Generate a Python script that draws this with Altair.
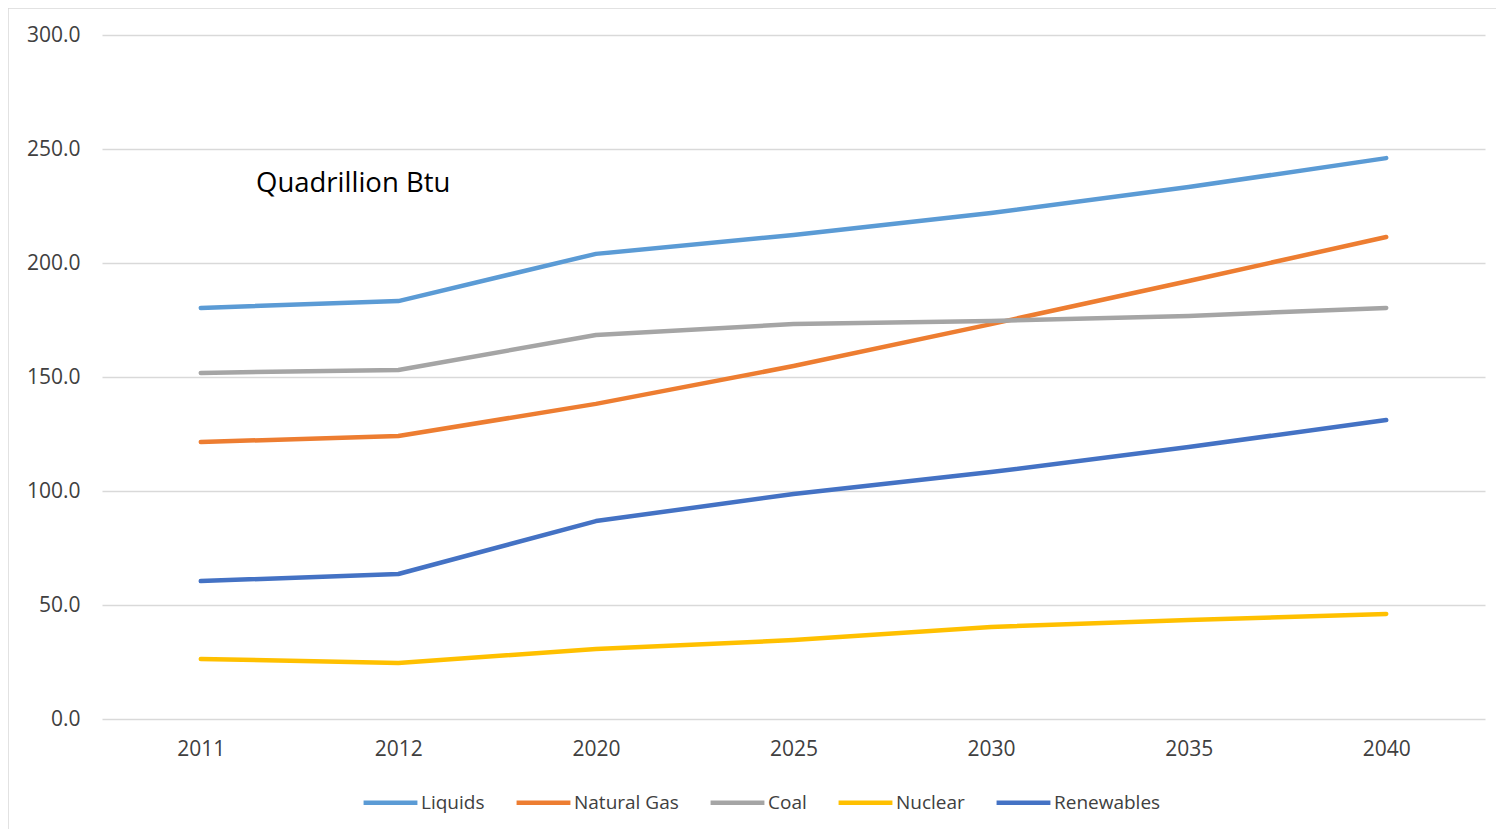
import altair as alt
import pandas as pd

years = ["2011", "2012", "2020", "2025", "2030", "2035", "2040"]
series_names = ["Liquids", "Natural Gas", "Coal", "Nuclear", "Renewables"]
liquids = [180.3, 183.3, 204.0, 212.3, 221.9, 233.3, 246.0]
natural_gas = [121.5, 124.1, 138.2, 154.8, 173.2, 192.1, 211.4]
coal = [151.8, 153.1, 168.4, 173.2, 174.6, 176.8, 180.3]
nuclear = [26.3, 24.6, 30.7, 34.6, 40.4, 43.4, 46.1]
renewables = [60.5, 63.6, 86.8, 98.7, 108.3, 119.3, 131.1]
colors = ["#5B9BD5", "#ED7D31", "#A5A5A5", "#FFC000", "#4472C4"]

rows = []
for name, vals in zip(series_names, [liquids, natural_gas, coal, nuclear, renewables]):
    for y, v in zip(years, vals):
        rows.append({"Year": y, "Series": name, "Value": v})
df = pd.DataFrame(rows)

FONT = "Open Sans"
W, H = 1383, 684

lines = alt.Chart(df).mark_line(strokeWidth=4.5, strokeCap="round", strokeJoin="round").encode(
    x=alt.X("Year:O", sort=years, title=None,
            scale=alt.Scale(type="point", padding=0.5),
            axis=alt.Axis(labelAngle=0, grid=False, ticks=False, domain=False,
                          labelPadding=19, labelFontSize=21, labelColor="#404040", labelFont=FONT)),
    y=alt.Y("Value:Q", title=None,
            scale=alt.Scale(domain=[0, 300], nice=False),
            axis=alt.Axis(values=[0, 50, 100, 150, 200, 250, 300], format=".1f",
                          ticks=False, domain=False, labelPadding=22,
                          labelFontSize=21, labelColor="#404040", labelFont=FONT,
                          gridColor="#d9d9d9", gridWidth=1.3)),
    color=alt.Color("Series:N", sort=series_names,
                    scale=alt.Scale(domain=series_names, range=colors),
                    legend=alt.Legend(title=None, orient="none", direction="horizontal",
                                      legendX=259, legendY=738,
                                      symbolType="stroke", symbolSize=2900, symbolStrokeWidth=4.5,
                                      labelFontSize=19, labelFont=FONT, labelColor="#404040",
                                      labelOffset=1, columnPadding=22)),
    detail="Series:N",
)

label = alt.Chart(pd.DataFrame({"t": ["Quadrillion Btu"]})).mark_text(
    align="left", baseline="middle", fontSize=27.5, font=FONT, color="#000000"
).encode(x=alt.value(154), y=alt.value(149), text="t:N")

border_left = alt.Chart(pd.DataFrame({"a": [0]})).mark_rule(color="#d9d9d9", strokeWidth=1.5).encode(
    x=alt.value(-94), y=alt.value(-27), y2=alt.value(H + 110))
border_top = alt.Chart(pd.DataFrame({"a": [0]})).mark_rule(color="#d9d9d9", strokeWidth=1.5).encode(
    x=alt.value(-94), x2=alt.value(W + 11), y=alt.value(-27))

chart = alt.layer(border_left, border_top, lines, label).properties(
    width=W, height=H,
    padding={"left": 94, "top": 27, "right": 11, "bottom": 110},
    autosize=alt.AutoSizeParams(type="none"),
).configure(background="white", view=alt.ViewConfig(stroke=None))

chart.save("out.html", embed_options={"renderer": "svg", "actions": False})
